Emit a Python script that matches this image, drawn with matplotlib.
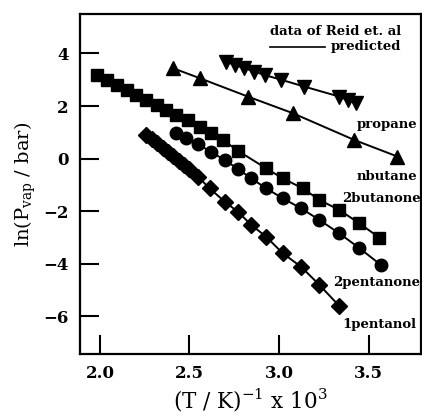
import matplotlib
matplotlib.use("Agg")
import matplotlib.pyplot as plt
from matplotlib.lines import Line2D

plt.rcParams['font.family'] = ['DejaVu Serif']
plt.rcParams['mathtext.fontset'] = 'dejavuserif'

# propane (down triangles)
propane_x = [2.705, 2.752, 2.807, 2.863, 2.919, 3.012, 3.141, 3.336, 3.383, 3.429]
propane_y = [3.69, 3.56, 3.44, 3.31, 3.18, 3.00, 2.74, 2.36, 2.23, 2.10]

# n-butane (up triangles)
nbutane_x = [2.408, 2.557, 2.826, 3.076, 3.420, 3.661]
nbutane_y = [3.44, 3.06, 2.36, 1.73, 0.71, 0.08]

# 2-butanone (squares)
butanone_x = [1.982, 2.037, 2.093, 2.149, 2.204, 2.260, 2.316, 2.371, 2.427, 2.492,
              2.557, 2.622, 2.687, 2.770, 2.928, 3.021, 3.132, 3.225, 3.336, 3.448, 3.559]
butanone_y = [3.18, 2.99, 2.80, 2.61, 2.42, 2.23, 2.04, 1.85, 1.66, 1.47,
              1.22, 0.97, 0.71, 0.30, -0.37, -0.75, -1.13, -1.57, -1.95, -2.46, -3.00]

# 2-pentanone (circles)
pentanone_x = [2.427, 2.483, 2.547, 2.622, 2.696, 2.770, 2.845, 2.928, 3.021, 3.123,
               3.225, 3.336, 3.448, 3.568]
pentanone_y = [0.97, 0.78, 0.55, 0.25, -0.05, -0.39, -0.75, -1.13, -1.51, -1.89,
               -2.33, -2.84, -3.40, -4.04]

# 1-pentanol (diamonds)
pentanol_x = [2.260, 2.290, 2.320, 2.350, 2.380, 2.410, 2.440, 2.470, 2.500, 2.547,
              2.612, 2.696, 2.770, 2.845, 2.928, 3.021, 3.123, 3.225, 3.336]
pentanol_y = [0.90, 0.74, 0.58, 0.41, 0.25, 0.09, -0.08, -0.24, -0.40, -0.68,
              -1.13, -1.63, -2.02, -2.52, -2.97, -3.60, -4.11, -4.80, -5.60]

labels = ["propane", "nbutane", "2butanone", "2pentanone", "1pentanol"]
label_x = [3.77, 3.77, 3.79, 3.79, 3.77]
label_y = [1.28, -0.68, -1.50, -4.70, -6.32]

xticks = [2.0, 2.5, 3.0, 3.5]
yticks = [-6, -4, -2, 0, 2, 4]

fig = plt.figure(figsize=(4.22, 4.20), dpi=100)
ax = fig.add_axes([0.1896, 0.1564, 0.807, 0.8103])

series = [
    (propane_x, propane_y, 'v', 10.5),
    (nbutane_x, nbutane_y, '^', 10.5),
    (butanone_x, butanone_y, 's', 8.2),
    (pentanone_x, pentanone_y, 'o', 9.0),
    (pentanol_x, pentanol_y, 'D', 8.0),
]
for xs, ys, m, ms in series:
    ax.plot(xs, ys, '-', color='black', lw=1.4, marker=m, ms=ms,
            mfc='black', mec='black')

for t, lx, ly in zip(labels, label_x, label_y):
    ax.text(lx, ly, t, ha='right', va='center', fontsize=9.5, fontweight='bold')

ax.text(0.944, 0.950, "data of Reid et. al", transform=ax.transAxes,
        ha='right', va='center', fontsize=9.5, fontweight='bold')
ax.text(0.944, 0.903, "predicted", transform=ax.transAxes,
        ha='right', va='center', fontsize=9.5, fontweight='bold')
ax.add_line(Line2D([0.557, 0.718], [0.903, 0.903], transform=ax.transAxes,
                   color='black', lw=1.2))

ax.set_xlim(1.889, 3.79)
ax.set_ylim(-7.44, 5.5)
ax.set_xticks(xticks)
ax.set_xticklabels([f"{v:.1f}" for v in xticks])
ax.set_yticks(yticks)
ax.set_yticklabels([f"\u2212{abs(v)}" if v < 0 else f"{v}" for v in yticks])

ax.tick_params(direction='in', length=14, width=1.5, labelsize=12, pad=8)
for lab in ax.get_xticklabels() + ax.get_yticklabels():
    lab.set_fontweight('bold')
for s in ax.spines.values():
    s.set_linewidth(1.6)

ax.set_xlabel(r"(T / K)$^{-1}$ x 10$^{3}$", fontsize=15.5, labelpad=3)
ax.set_ylabel(r"ln(P$_{\mathrm{vap}}$ / bar)", fontsize=14, labelpad=4)

fig.savefig("out.png", dpi=100)
